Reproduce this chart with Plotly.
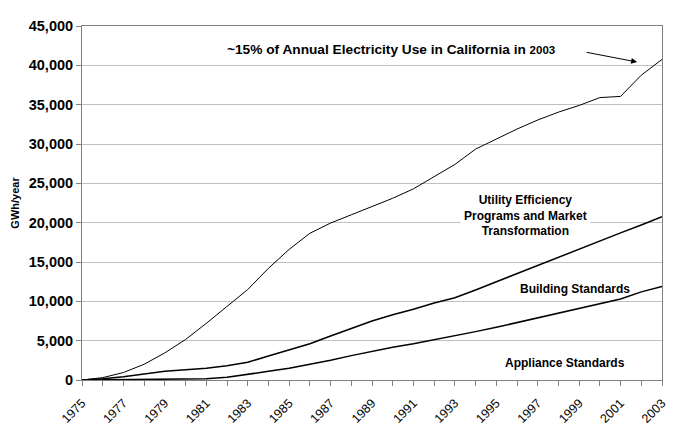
import plotly.graph_objects as go

years = list(range(1975, 2004))

# cumulative savings (GWh/year)
appliance = [0, 30, 60, 80, 100, 100, 150, 350, 700, 1100, 1500, 2000, 2500, 3100,
             3650, 4150, 4600, 5100, 5600, 6150, 6700, 7300, 7900, 8500, 9100, 9700,
             10300, 11200, 11900]
building = [0, 150, 400, 750, 1100, 1300, 1500, 1800, 2250, 3050, 3800, 4600, 5600,
            6600, 7500, 8300, 9000, 9800, 10450, 11450, 12500, 13550, 14600, 15650,
            16650, 17700, 18700, 19700, 20750]
utility = [0, 300, 950, 2000, 3450, 5150, 7200, 9300, 11500, 14200, 16600, 18650,
           19950, 21000, 22000, 23100, 24300, 25900, 27400, 29350, 30650, 31900,
           33050, 34050, 34900, 35900, 36050, 38750, 40750]

xticks = list(range(1975, 2004, 2))

FONT = "Arial, Liberation Sans, sans-serif"

fig = go.Figure()
fig.add_trace(go.Scatter(x=years, y=utility, mode="lines",
                         line=dict(color="black", width=1)))
fig.add_trace(go.Scatter(x=years, y=building, mode="lines",
                         line=dict(color="black", width=1.5)))
fig.add_trace(go.Scatter(x=years, y=appliance, mode="lines",
                         line=dict(color="black", width=1.5)))

fig.update_layout(
    width=690, height=425,
    margin=dict(l=82, r=28, t=26, b=45, autoexpand=False),
    paper_bgcolor="white", plot_bgcolor="white",
    showlegend=False,
    font=dict(family=FONT, color="black"),
)

fig.update_xaxes(
    range=[1975, 2003], tickvals=xticks, ticktext=[str(v) for v in xticks],
    tickangle=-45, tickfont=dict(family=FONT, size=12.5, color="black"),
    ticks="outside", ticklen=5, tickcolor="#808080", automargin=False,
    ticklabelstandoff=5,
    minor=dict(dtick=1, ticks="outside", ticklen=5, tickcolor="#808080", showgrid=False),
    showgrid=False, showline=True, linecolor="#808080", linewidth=1, mirror=True,
    zeroline=False,
)
fig.update_yaxes(
    range=[0, 45000], dtick=5000, tickformat=",",
    tickfont=dict(family=FONT, size=14.5, color="black", weight="bold"),
    ticks="outside", ticklen=5, tickcolor="#808080", automargin=False,
    showgrid=True, gridcolor="#c0c0c0", gridwidth=1,
    showline=True, linecolor="#808080", linewidth=1, mirror=True,
    zeroline=False,
    title=dict(text="GWh/year", font=dict(family=FONT, size=11, color="black", weight="bold"),
               standoff=6),
)

fig.add_annotation(
    x=1989.9, y=42070, xref="x", yref="y", showarrow=False,
    text="~15% of Annual Electricity Use in California in <span style='font-size:11.5px'>2003</span>",
    font=dict(family=FONT, size=13.7, color="black", weight="bold"),
)
fig.add_annotation(
    x=2001.8, y=40420, xref="x", yref="y", ax=-52, ay=-10,
    showarrow=True, arrowhead=2, arrowsize=1.2, arrowwidth=1, arrowcolor="black", text="",
)
fig.add_annotation(
    x=1996.4, y=20900, xref="x", yref="y", showarrow=False,
    text="Utility Efficiency<br>Programs and Market<br>Transformation",
    align="center", bgcolor="white", borderpad=3,
    font=dict(family=FONT, size=12, color="black", weight="bold"),
)
fig.add_annotation(
    x=1998.8, y=11550, xref="x", yref="y", showarrow=False,
    text="Building Standards",
    font=dict(family=FONT, size=12, color="black", weight="bold"),
)
fig.add_annotation(
    x=1998.3, y=2170, xref="x", yref="y", showarrow=False,
    text="Appliance Standards",
    font=dict(family=FONT, size=12, color="black", weight="bold"),
)

fig.write_html("out.html")
